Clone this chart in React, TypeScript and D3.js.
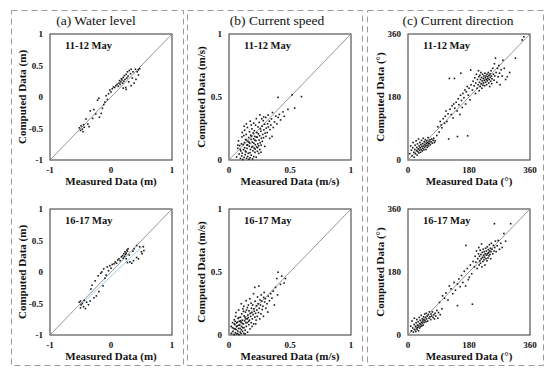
import React, { useEffect, useRef } from 'react';
import * as d3 from 'd3';

type Pt = [number, number]; // [measured, computed]

const columnTitles = ['(a) Water level', '(b) Current speed', '(c) Current direction'];
const units = ['(m)', '(m/s)', '(°)'];
const periods = ['11-12 May', '16-17 May'];

const levelDomain: Pt = [-1, 1];
const speedDomain: Pt = [0, 1];
const directionDomain: Pt = [0, 360];
const levelXTicks = [-1, 0, 1];
const levelYTicks = [-1, -0.5, 0, 0.5, 1];
const speedTicks = [0, 0.5, 1];
const directionTicks = [0, 180, 360];

const levelMay11: Pt[] = [
	[-0.52, -0.49], [-0.5, -0.53], [-0.49, -0.46], [-0.47, -0.51], [-0.45, -0.44], [-0.44, -0.48], [-0.41, -0.35],
	[-0.38, -0.43], [-0.36, -0.47], [-0.34, -0.22], [-0.3, -0.34], [-0.28, -0.2], [-0.25, -0.27], [-0.22, -0.05],
	[-0.2, -0.02], [-0.19, -0.32], [-0.16, -0.26], [-0.14, -0.18], [-0.12, -0.12], [-0.1, -0.08], [-0.08, 0.02],
	[-0.06, -0.04], [-0.04, 0.05], [-0.02, 0.11], [0, 0.08], [0.02, 0.13], [0.04, 0.16], [0.06, 0.15], [0.08, 0.18],
	[0.1, 0.2], [0.12, 0.17], [0.13, 0.22], [0.14, 0.26], [0.15, 0.2], [0.16, 0.24], [0.17, 0.29], [0.18, 0.27],
	[0.19, 0.22], [0.2, 0.31], [0.21, 0.25], [0.22, 0.34], [0.23, 0.28], [0.24, 0.15], [0.25, 0.36], [0.26, 0.3],
	[0.27, 0.4], [0.28, 0.33], [0.29, 0.24], [0.3, 0.42], [0.32, 0.37], [0.33, 0.44], [0.35, 0.3], [0.36, 0.4],
	[0.38, 0.22], [0.4, 0.44], [0.41, 0.28], [0.43, 0.4], [0.45, 0.43], [0.2, 0.14], [0.25, 0.12], [0.33, 0.18],
	[-0.46, -0.55], [0.47, 0.45], [0.45, 0.35],
];

const levelMay16: Pt[] = [
	[-0.52, -0.48], [-0.5, -0.57], [-0.49, -0.52], [-0.47, -0.5], [-0.45, -0.55], [-0.44, -0.45], [-0.42, -0.58],
	[-0.4, -0.48], [-0.37, -0.52], [-0.34, -0.46], [-0.33, -0.27], [-0.31, -0.21], [-0.28, -0.41], [-0.26, -0.14],
	[-0.24, -0.38], [-0.21, -0.06], [-0.2, -0.31], [-0.17, -0.02], [-0.15, 0], [-0.13, -0.22], [-0.12, 0.05],
	[-0.1, -0.1], [-0.08, -0.05], [-0.06, 0.08], [-0.04, 0.02], [-0.02, 0.1], [0, 0.06], [0.02, 0.12], [0.05, 0.13],
	[0.07, 0.16], [0.09, 0.14], [0.11, 0.19], [0.13, 0.21], [0.15, 0.18], [0.17, 0.24], [0.19, 0.26], [0.2, 0.22],
	[0.21, 0.29], [0.22, 0.25], [0.23, 0.32], [0.24, 0.28], [0.25, 0.3], [0.25, 0.21], [0.26, 0.35], [0.27, 0.15],
	[0.28, 0.37], [0.3, 0.27], [0.31, 0.16], [0.34, 0.14], [0.36, 0.33], [0.37, 0.18], [0.38, 0.37], [0.42, 0.23],
	[0.42, 0.42], [0.45, 0.21], [0.47, 0.4], [0.5, 0.32], [0.51, 0.29], [0.53, 0.4], [0.54, 0.34], [-0.5, -0.46],
	[0.27, 0.33],
];
// light blue fitted line drawn in the 16-17 May water level panel
const levelFitMay16: Pt[] = [[-0.5, -0.53], [0.55, 0.44]];

const speedMay11: Pt[] = [
	[0.062, 0.024], [0.071, 0.093], [0.083, 0.047], [0.078, 0.152], [0.094, 0.012], [0.087, 0.114], [0.104, 0.033], [0.097, 0.072],
	[0.106, 0.183], [0.113, 0.004], [0.108, 0.054], [0.116, 0.123], [0.109, 0.218], [0.124, 0.021], [0.118, 0.083], [0.127, 0.138],
	[0.121, 0.194], [0.133, 0.043], [0.129, 0.097], [0.136, 0.163], [0.128, 0.236], [0.144, 0.013], [0.139, 0.064], [0.146, 0.118],
	[0.141, 0.203], [0.153, 0.028], [0.148, 0.092], [0.156, 0.147], [0.151, 0.258], [0.163, 0.006], [0.158, 0.053], [0.166, 0.109],
	[0.161, 0.178], [0.168, 0.224], [0.173, 0.018], [0.176, 0.084], [0.171, 0.132], [0.178, 0.197], [0.183, 0.038], [0.186, 0.102],
	[0.181, 0.163], [0.188, 0.247], [0.193, 0.009], [0.196, 0.073], [0.191, 0.142], [0.198, 0.213], [0.203, 0.027], [0.206, 0.094],
	[0.201, 0.168], [0.208, 0.232], [0.213, 0.061], [0.216, 0.121], [0.211, 0.187], [0.218, 0.276], [0.223, 0.022], [0.226, 0.104],
	[0.221, 0.153], [0.228, 0.218], [0.233, 0.069], [0.236, 0.128], [0.231, 0.181], [0.238, 0.262], [0.243, 0.113], [0.246, 0.158],
	[0.241, 0.207], [0.248, 0.298], [0.253, 0.083], [0.256, 0.137], [0.251, 0.192], [0.258, 0.246], [0.263, 0.118], [0.266, 0.173],
	[0.261, 0.228], [0.268, 0.327], [0.273, 0.148], [0.276, 0.203], [0.271, 0.268], [0.283, 0.177], [0.286, 0.238], [0.281, 0.312],
	[0.293, 0.108], [0.296, 0.213], [0.291, 0.284], [0.303, 0.188], [0.306, 0.253], [0.301, 0.338], [0.313, 0.218], [0.316, 0.287],
	[0.323, 0.262], [0.321, 0.357], [0.333, 0.172], [0.336, 0.241], [0.331, 0.308], [0.343, 0.277], [0.353, 0.187], [0.348, 0.326],
	[0.356, 0.377], [0.363, 0.258], [0.373, 0.302], [0.383, 0.348], [0.393, 0.287], [0.403, 0.338], [0.402, 0.497], [0.413, 0.362],
	[0.423, 0.318], [0.443, 0.382], [0.453, 0.347], [0.483, 0.402], [0.518, 0.517], [0.538, 0.412], [0.594, 0.503],
	[0.134, 0.072], [0.143, 0.158], [0.152, 0.121], [0.164, 0.141], [0.172, 0.058], [0.184, 0.188], [0.194, 0.107], [0.204, 0.133],
	[0.214, 0.087], [0.224, 0.182], [0.234, 0.098], [0.244, 0.052], [0.102, 0.128], [0.092, 0.083], [0.124, 0.268], [0.142, 0.287],
	[0.174, 0.308], [0.202, 0.292], [0.224, 0.328], [0.254, 0.358], [0.284, 0.342], [0.182, 0.278], [0.212, 0.158], [0.262, 0.062],
	[0.073, 0.118],
];

const speedMay16: Pt[] = [
	[0.021, 0.012], [0.018, 0.068], [0.032, 0.028], [0.029, 0.098], [0.041, 0.004], [0.038, 0.052], [0.043, 0.121], [0.052, 0.018],
	[0.048, 0.083], [0.054, 0.148], [0.061, 0.008], [0.058, 0.043], [0.063, 0.097], [0.057, 0.178], [0.072, 0.031], [0.068, 0.071],
	[0.074, 0.132], [0.082, 0.003], [0.078, 0.052], [0.084, 0.108], [0.079, 0.198], [0.092, 0.022], [0.088, 0.078], [0.094, 0.142],
	[0.102, 0.041], [0.098, 0.102], [0.104, 0.168], [0.101, 0.248], [0.112, 0.058], [0.108, 0.118], [0.114, 0.208], [0.122, 0.013],
	[0.118, 0.088], [0.124, 0.152], [0.121, 0.228], [0.132, 0.038], [0.128, 0.112], [0.134, 0.182], [0.142, 0.068], [0.138, 0.128],
	[0.144, 0.198], [0.141, 0.272], [0.152, 0.022], [0.148, 0.098], [0.154, 0.158], [0.151, 0.218], [0.162, 0.082], [0.158, 0.138],
	[0.164, 0.192], [0.172, 0.048], [0.168, 0.118], [0.174, 0.172], [0.171, 0.288], [0.182, 0.098], [0.178, 0.148], [0.184, 0.212],
	[0.181, 0.252], [0.192, 0.128], [0.188, 0.178], [0.194, 0.238], [0.202, 0.088], [0.198, 0.162], [0.204, 0.208], [0.201, 0.328],
	[0.212, 0.142], [0.208, 0.188], [0.214, 0.268], [0.211, 0.378], [0.222, 0.118], [0.218, 0.172], [0.224, 0.232], [0.232, 0.148],
	[0.228, 0.198], [0.234, 0.302], [0.242, 0.178], [0.238, 0.248], [0.244, 0.388], [0.252, 0.128], [0.248, 0.212], [0.254, 0.278],
	[0.262, 0.168], [0.258, 0.238], [0.264, 0.318], [0.272, 0.202], [0.268, 0.268], [0.282, 0.148], [0.278, 0.228], [0.284, 0.298],
	[0.292, 0.262], [0.288, 0.338], [0.302, 0.212], [0.298, 0.288], [0.312, 0.248], [0.322, 0.308], [0.318, 0.182], [0.332, 0.272],
	[0.342, 0.328], [0.352, 0.292], [0.362, 0.348], [0.372, 0.238], [0.382, 0.378], [0.392, 0.448], [0.402, 0.498], [0.398, 0.318],
	[0.422, 0.402], [0.432, 0.468], [0.452, 0.412], [0.462, 0.448],
	[0.028, 0.058], [0.043, 0.088], [0.049, 0.048], [0.062, 0.068], [0.071, 0.012], [0.069, 0.102], [0.083, 0.078], [0.091, 0.052],
	[0.093, 0.112], [0.103, 0.068], [0.111, 0.028], [0.109, 0.092], [0.123, 0.058], [0.131, 0.142], [0.139, 0.098], [0.149, 0.128],
	[0.161, 0.108], [0.133, 0.008], [0.099, 0.011], [0.051, 0.108], [0.081, 0.138], [0.189, 0.068], [0.219, 0.088], [0.159, 0.238],
	[0.119, 0.188],
];

const directionMay11: Pt[] = [
	[5, 18], [8, 40], [10, 28], [12, 12], [14, 35], [15, 50], [17, 22], [18, 8], [20, 30], [21, 42], [22, 18],
	[24, 55], [25, 27], [26, 36], [27, 14], [28, 46], [29, 24], [30, 32], [31, 60], [32, 20], [33, 40], [34, 28],
	[35, 50], [36, 35], [37, 22], [38, 44], [39, 30], [40, 56], [41, 38], [42, 26], [43, 47], [44, 33], [45, 62],
	[46, 40], [47, 29], [48, 52], [49, 36], [50, 44], [51, 58], [52, 40], [53, 30], [54, 48], [55, 55], [56, 42],
	[57, 36], [58, 50], [59, 64], [60, 46], [61, 40], [62, 54], [63, 48], [65, 58], [66, 44], [68, 52], [70, 60],
	[72, 48], [74, 56], [76, 62], [78, 50], [80, 55],
	[85, 70], [88, 95], [92, 80], [95, 110], [98, 100], [100, 92], [104, 118], [108, 105], [110, 125], [112, 140],
	[115, 110], [118, 132], [120, 60], [122, 233], [124, 145], [128, 130], [130, 155], [133, 120], [135, 160],
	[137, 233], [138, 148], [142, 165], [145, 140], [146, 67], [148, 175], [150, 158], [153, 130], [155, 185],
	[156, 248], [158, 170], [160, 150], [162, 190], [165, 178], [168, 200], [170, 160], [172, 195], [175, 210],
	[176, 69], [178, 185], [180, 205], [183, 172], [185, 257], [186, 215],
	[190, 200], [192, 225], [195, 212], [197, 235], [199, 190], [200, 220], [202, 245], [204, 205], [205, 230],
	[207, 215], [208, 255], [209, 238], [210, 198], [211, 222], [212, 242], [213, 210], [214, 230], [215, 250],
	[216, 218], [217, 236], [218, 205], [219, 226], [220, 245], [221, 214], [222, 233], [223, 220], [224, 240],
	[225, 228], [226, 212], [227, 248], [228, 235], [229, 222], [230, 240], [231, 230], [232, 215], [233, 245],
	[234, 226], [235, 238], [236, 232], [237, 250], [238, 220], [239, 242], [240, 230], [241, 210], [242, 246],
	[243, 236], [244, 225], [245, 255], [246, 240], [247, 218], [248, 232], [250, 262], [252, 245], [254, 228],
	[255, 275], [256, 240], [258, 291], [260, 250], [262, 222], [264, 262], [266, 238], [268, 270], [270, 248],
	[272, 215], [275, 258], [278, 240], [280, 285], [284, 262], [288, 230], [293, 238], [300, 250], [317, 291],
	[337, 343], [342, 352],
];

const directionMay16: Pt[] = [
	[8, 25], [10, 12], [12, 40], [14, 20], [16, 8], [18, 30], [19, 48], [20, 15], [22, 25], [23, 10], [24, 35],
	[25, 20], [26, 44], [27, 16], [28, 28], [29, 22], [30, 38], [31, 12], [32, 26], [33, 50], [34, 20], [35, 32],
	[36, 42], [37, 24], [38, 30], [39, 56], [40, 36], [41, 26], [42, 46], [43, 34], [44, 40], [45, 28], [46, 52],
	[47, 44], [48, 36], [49, 60], [50, 42], [52, 50], [53, 38], [54, 62], [55, 46], [57, 54], [58, 40], [60, 58],
	[62, 48], [63, 66], [65, 52], [67, 44], [68, 60], [70, 54], [72, 66], [74, 50], [76, 58], [78, 46], [80, 62],
	[82, 54], [85, 70], [88, 48], [90, 64], [95, 58], [100, 75],
	[93, 93], [102, 112], [108, 105], [112, 120], [118, 100], [122, 140], [127, 132], [132, 118], [136, 150],
	[140, 128], [146, 146], [146, 84], [150, 160], [154, 138], [158, 170], [162, 150], [166, 182], [170, 140],
	[171, 256], [175, 190], [178, 158], [181, 165], [184, 200], [188, 175], [190, 88], [192, 210],
	[196, 195], [198, 225], [200, 208], [202, 240], [204, 190], [206, 218], [208, 232], [209, 250], [210, 200],
	[211, 225], [212, 212], [213, 242], [214, 205], [215, 230], [216, 218], [217, 260], [218, 195], [219, 236],
	[220, 222], [221, 210], [222, 245], [223, 228], [224, 215], [225, 238], [226, 222], [227, 200], [228, 232],
	[229, 248], [230, 218], [231, 240], [232, 228], [233, 212], [234, 252], [235, 232], [236, 220], [237, 244],
	[238, 235], [239, 226], [240, 258], [241, 240], [242, 230], [243, 248], [244, 218], [245, 238], [246, 262],
	[248, 245], [250, 232], [252, 256], [254, 240], [255, 318], [256, 250], [258, 268], [260, 238], [263, 255],
	[266, 270], [270, 245], [274, 262], [278, 250], [283, 290], [288, 268], [303, 318],
];

const App: React.FC = () => {
	const svgRef = useRef<SVGSVGElement>(null);

	useEffect(() => {
		if (!svgRef.current) return;

		const width = 550;
		const height = 376;
		const colLeft = [50, 229, 408];
		const rowTop = [34, 209];
		const titleShift = [-15, -13, -11];
		const plotW = 122;
		const plotH = 126;
		const serif = '"Liberation Serif", Tinos, "Times New Roman", "DejaVu Serif", serif';

		const columns = [
			{ domain: levelDomain, xTicks: levelXTicks, yTicks: levelYTicks, data: [levelMay11, levelMay16] },
			{ domain: speedDomain, xTicks: speedTicks, yTicks: speedTicks, data: [speedMay11, speedMay16] },
			{ domain: directionDomain, xTicks: directionTicks, yTicks: directionTicks, data: [directionMay11, directionMay16] },
		];

		const svg = d3.select(svgRef.current)
			.attr('width', width)
			.attr('height', height)
			.style('font-family', serif);

		svg.selectAll('*').remove();

		svg.append('rect').attr('width', width).attr('height', height).attr('fill', '#fff');

		// dashed frames around each column
		const frames = [[11, 183], [187, 362], [367, 543]];
		frames.forEach(([x0, x1]) => {
			svg.append('rect')
				.attr('x', x0 + 0.5)
				.attr('y', 10.5)
				.attr('width', x1 - x0)
				.attr('height', 355)
				.attr('fill', 'none')
				.attr('stroke', '#9a9a9a')
				.attr('stroke-width', 1)
				.attr('stroke-dasharray', '6,4');
		});

		columns.forEach((col, ci) => {
			svg.append('text')
				.attr('x', colLeft[ci] + plotW / 2 + titleShift[ci])
				.attr('y', 25)
				.attr('text-anchor', 'middle')
				.style('font-size', '13.5px')
				.attr('fill', '#111')
				.text(columnTitles[ci]);

			col.data.forEach((points, ri) => {
				const left = colLeft[ci];
				const top = rowTop[ri];
				const x = d3.scaleLinear().domain(col.domain).range([left, left + plotW]);
				const y = d3.scaleLinear().domain(col.domain).range([top + plotH, top]);
				const g = svg.append('g');

				g.append('rect')
					.attr('x', left)
					.attr('y', top)
					.attr('width', plotW)
					.attr('height', plotH)
					.attr('fill', 'none')
					.attr('stroke', '#555')
					.attr('stroke-width', 1.2);

				g.append('line')
					.attr('x1', x(col.domain[0]))
					.attr('y1', y(col.domain[0]))
					.attr('x2', x(col.domain[1]))
					.attr('y2', y(col.domain[1]))
					.attr('stroke', '#8a8a8a')
					.attr('stroke-width', 0.9);

				if (ci === 0 && ri === 1) {
					g.append('path')
						.datum(levelFitMay16)
						.attr('d', d3.line<Pt>().x(d => x(d[0])).y(d => y(d[1])))
						.attr('fill', 'none')
						.attr('stroke', '#9fcbe8')
						.attr('stroke-width', 1);
				}

				g.selectAll('rect.pt')
					.data(points)
					.enter()
					.append('rect')
					.attr('class', 'pt')
					.attr('x', d => x(d[0]) - 0.8)
					.attr('y', d => y(d[1]) - 0.8)
					.attr('width', 1.6)
					.attr('height', 1.6)
					.attr('fill', '#1a1a1a');

				// tick labels
				g.selectAll('text.yt')
					.data(col.yTicks)
					.enter()
					.append('text')
					.attr('x', left - 7)
					.attr('y', d => y(d))
					.attr('dy', '0.35em')
					.attr('text-anchor', 'end')
					.style('font-weight', 'bold')
					.style('font-size', '9px')
					.attr('fill', '#111')
					.text(d => String(d));

				g.selectAll('text.xt')
					.data(col.xTicks)
					.enter()
					.append('text')
					.attr('x', d => x(d))
					.attr('y', top + plotH + 13)
					.attr('text-anchor', 'middle')
					.style('font-weight', 'bold')
					.style('font-size', '9px')
					.attr('fill', '#111')
					.text(d => String(d));

				g.append('text')
					.attr('x', left + plotW / 2)
					.attr('y', top + plotH + 25)
					.attr('text-anchor', 'middle')
					.style('font-weight', 'bold')
					.style('font-size', '11px')
					.attr('fill', '#111')
					.text(`Measured Data ${units[ci]}`);

				g.append('text')
					.attr('transform', `translate(${left - 24},${top + plotH / 2}) rotate(-90)`)
					.attr('text-anchor', 'middle')
					.style('font-weight', 'bold')
					.style('font-size', '11px')
					.attr('fill', '#111')
					.text(`Computed Data ${units[ci]}`);

				g.append('text')
					.attr('x', left + 15)
					.attr('y', top + 15)
					.style('font-weight', 'bold')
					.style('font-size', '10.5px')
					.attr('fill', '#111')
					.text(periods[ri]);
			});
		});
	}, []);

	return <svg ref={svgRef} style={{ position: 'absolute', left: 0, top: 0 }}></svg>;
};

export default App;
